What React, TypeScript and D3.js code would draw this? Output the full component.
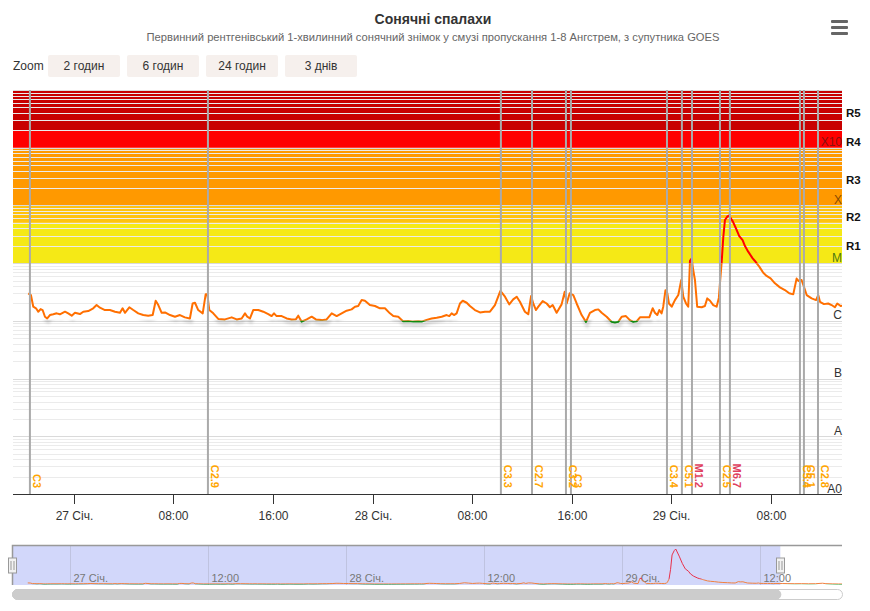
import React, { useEffect, useRef } from "react";
import * as d3 from "d3";

const title = "Сонячні спалахи";
const subtitle =
  "Первинний рентгенівський 1-хвилинний сонячний знімок у смузі пропускання 1-8 Ангстрем, з супутника GOES";
const zoomButtons = ["2 годин", "6 годин", "24 годин", "3 днів"];

// hours from 27 Jan 00:00 UTC
const obsHours = [
  -3.67, -3.46, -3.27, -3.05, -2.87, -2.68, -2.52, -2.33, -2.15, -1.93, -1.66, -1.39, -1.13, -0.72, -0.46,
  -0.18, 0.08, 0.48, 0.75, 1.15, 1.55, 1.82, 2.09, 2.49, 2.89, 3.3, 3.7, 3.91, 4.1, 4.45, 4.77, 5.17, 5.57,
  5.97, 6.33, 6.57, 6.78, 7.05, 7.32, 7.72, 8.12, 8.52, 8.92, 9.32, 9.54, 9.73, 9.99, 10.35, 10.59, 10.72,
  10.88, 11.2, 11.6, 12.14, 12.68, 13.08, 13.48, 13.75, 13.93, 14.15, 14.41, 14.82, 15.22, 15.62, 15.89,
  16.08, 16.29, 16.7, 17.1, 17.5, 17.85, 18.03, 18.3, 18.71, 19.11, 19.45, 19.91, 20.31, 20.72, 21.12,
  21.52, 21.92, 22.32, 22.59, 22.85, 23.13, 23.39, 23.79, 24.2, 24.6, 25.0, 25.4, 25.67, 26.07, 26.47,
  26.87, 27.28, 27.68, 27.95, 28.35, 28.75, 29.16, 29.56, 29.96, 30.17, 30.36, 30.55, 30.76, 31.03, 31.25,
  31.57, 31.83, 32.23, 32.64, 33.04, 33.44, 33.84, 34.28, 34.65, 34.99, 35.31, 35.59, 35.85, 36.25, 36.52,
  36.75, 36.92, 37.14, 37.33, 37.68, 38.0, 38.26, 38.48, 38.8, 39.2, 39.45, 39.61, 39.85, 40.14, 40.41,
  40.81, 41.16, 41.48, 41.88, 42.15, 42.42, 42.82, 43.22, 43.49, 43.75, 44.03, 44.37, 44.69, 44.96, 45.23,
  45.5, 45.9, 46.25, 46.52, 46.7, 46.89, 47.05, 47.24, 47.37, 47.55, 47.7, 47.83, 48.05, 48.31, 48.58,
  48.82, 48.98, 49.2, 49.38, 49.52, 49.65, 49.78, 49.92, 50.1, 50.46, 50.72, 50.91, 51.13, 51.39, 51.66,
  51.84, 51.93, 52.07, 52.2, 52.33, 52.52, 52.65, 52.95, 53.22, 53.48, 53.75, 53.94, 54.2, 54.56, 54.74,
  55.09, 55.41, 55.68, 56.0, 56.35, 56.75, 57.15, 57.5, 57.82, 58.09, 58.25, 58.49, 58.68, 58.9, 59.3,
  59.65, 59.83, 59.97, 60.29, 60.63, 60.9, 61.17, 61.36, 61.63, 61.9, 62.4, 63.0, 63.6, 64.2, 64.8, 65.4,
  65.7, 66.3, 66.8, 67.1,
];

// X-ray flux, 1e-6 W/m² (C-class units)
const obsFlux = [
  3.0, 2.8, 1.76, 1.65, 1.44, 1.6, 1.54, 1.18, 1.1, 1.26, 1.3, 1.35, 1.3, 1.44, 1.35,
  1.23, 1.38, 1.31, 1.44, 1.48, 1.65, 1.88, 1.69, 1.54, 1.54, 1.44, 1.38, 1.65, 1.38, 1.72, 1.54, 1.35, 1.26,
  1.23, 1.26, 2.23, 1.88, 1.38, 1.4, 1.26, 1.18, 1.26, 1.15, 1.1, 2.0, 2.06, 1.54, 1.35, 2.9, 2.9,
  1.54, 1.35, 1.08, 1.06, 1.15, 1.06, 1.1, 1.35, 1.18, 1.1, 1.54, 1.54, 1.44, 1.31, 1.21,
  1.35, 1.21, 1.21, 1.1, 1.06, 1.07, 1.23, 0.97, 1.06, 1.18, 1.06, 1.03, 1.06, 1.35, 1.21,
  1.35, 1.5, 1.58, 1.76, 1.81, 2.29, 2.23, 1.88, 1.81, 1.65, 1.65, 1.35, 1.21, 1.18, 0.98,
  0.99, 0.97, 0.98, 0.97, 1.04, 1.1, 1.13, 1.18, 1.26, 1.21, 1.35, 1.26, 1.35, 2.0, 2.23,
  2.06, 1.81, 1.54, 1.4, 1.44, 1.44, 1.88, 3.3, 2.62, 1.93, 2.36, 2.62, 2.14, 1.44, 1.3,
  2.7, 2.0, 1.54, 1.76, 2.2, 2.0, 1.72, 1.88, 1.38, 1.93, 3.2, 2.0, 3.0, 2.8, 2.0,
  1.26, 0.96, 1.38, 1.54, 1.58, 1.38, 1.18, 0.96, 0.94, 0.96, 1.18, 1.21, 1.03, 0.96, 0.98,
  1.15, 1.15, 1.15, 1.65, 1.38, 1.26, 1.54, 1.35, 1.76, 3.4, 3.0, 2.0, 1.76, 2.29, 2.8,
  5.1, 2.62, 2.0, 1.76, 11.0, 12.0, 7.6, 5.1, 1.76, 1.72, 1.81, 2.45, 2.23, 1.88, 1.76,
  2.5, 4.5, 10.6, 28.6, 55.8, 64.0, 67.0, 53.5, 39.8, 29.5, 25.1, 19.8, 15.8, 12.1, 10.9,
  8.7, 6.8, 6.0, 5.45, 4.47, 3.8, 3.42, 3.0, 2.88, 5.4, 4.9, 5.1, 3.9, 2.8, 2.45,
  2.29, 2.8, 2.14, 1.95, 2.0, 1.88, 1.72, 2.0, 1.81, 1.85, 1.7, 1.5, 1.6, 1.4, 1.5, 2.4,
  1.6, 1.2, 0.97, 0.95,
];

const flareHours = [-3.54, 10.77, 34.32, 36.82, 39.55, 39.95, 47.67, 48.87, 49.68, 51.93, 52.73, 58.36, 58.68, 59.81];
const flareLabels = ["C3", "C2.9", "C3.3", "C2.7", "C3.2", "C3", "C3.4", "C5.1", "M1.2", "C2.5", "M6.7", "C5.4", "C5.1", "C2.8"];

const gradeValues = [1e-9, 1e-8, 1e-7, 1e-6, 1e-5, 1e-4, 1e-3];
const gradeLabels = ["A0", "A", "B", "C", "M", "X", "X10"];
const gradeColors = ["#333", "#333", "#333", "#333", "#4d7a12", "#8a4a00", "#8a1010"];

const radioLimits = [1e-5, 5e-5, 1e-4, 1e-3, 2e-3, 1e-2];
const radioLabels = ["R1", "R2", "R3", "R4", "R5"];
const radioColors = ["#f5e916", "#ffc20e", "#ff9900", "#ff0000", "#c80000"];

const mainTicks = [0, 8, 16, 24, 32, 40, 48, 56];
const navTicks = [0, 12, 24, 36, 48, 60];
const monthShort = "Січ.";

const viewStart = -4.9;
const viewEnd = 61.74;
const navStart = -5.04;
const navEnd = 67.1;

const FONT = "'Liberation Sans', Arial, Helvetica, sans-serif";
const baseTime = Date.UTC(2025, 0, 27);
const toDate = (h: number) => new Date(baseTime + h * 3600e3);

const fmtTick = (d: Date) =>
  d.getUTCHours() === 0 && d.getUTCMinutes() === 0
    ? `${d.getUTCDate()} ${monthShort}`
    : d3.utcFormat("%H:%M")(d);

export default function App() {
  const ref = useRef<SVGSVGElement>(null);

  useEffect(() => {
    const svg = d3.select(ref.current);
    svg.selectAll("*").remove();

    const plot = { left: 13, right: 842, top: 90, bottom: 494 };
    const nav = { left: 12, right: 842, top: 546, bottom: 585 };

    const data = obsHours.map((h, i) => ({ t: toDate(h), v: obsFlux[i] * 1e-6 }));

    const x = d3.scaleUtc().domain([toDate(viewStart), toDate(viewEnd)]).range([plot.left, plot.right]);
    const y = d3.scaleLog().domain([1e-9, 1e-2]).range([plot.bottom, plot.top]);

    const defs = svg.append("defs");
    const clip = (id: string, x0: number, y0: number, x1: number, y1: number) =>
      defs.append("clipPath").attr("id", id).append("rect")
        .attr("x", x0).attr("y", y0).attr("width", x1 - x0).attr("height", y1 - y0);
    defs.append("filter").attr("id", "soft").append("feGaussianBlur").attr("stdDeviation", 1.6);

    // header
    svg.append("text").attr("x", 433).attr("y", 24).attr("text-anchor", "middle")
      .attr("font-size", 14).attr("font-weight", "bold").attr("fill", "#333").text(title);
    svg.append("text").attr("x", 433).attr("y", 41).attr("text-anchor", "middle")
      .attr("font-size", 11.2).attr("fill", "#666").text(subtitle);
    [20, 26, 32].forEach((yy) =>
      svg.append("rect").attr("x", 831).attr("y", yy).attr("width", 17).attr("height", 3)
        .attr("rx", 1).attr("fill", "#666"));

    svg.append("text").attr("x", 13).attr("y", 70).attr("font-size", 12).attr("fill", "#333").text("Zoom");
    zoomButtons.forEach((b, i) => {
      const bx = 48 + i * 79;
      svg.append("rect").attr("x", bx).attr("y", 55).attr("width", 72).attr("height", 22)
        .attr("rx", 2).attr("fill", "#f6f0ed");
      svg.append("text").attr("x", bx + 36).attr("y", 70).attr("text-anchor", "middle")
        .attr("font-size", 12).attr("fill", "#333").text(b);
    });

    // radio blackout bands
    const g = svg.append("g");
    radioColors.forEach((c, i) => {
      g.append("rect").attr("x", plot.left).attr("width", plot.right - plot.left)
        .attr("y", y(radioLimits[i + 1])).attr("height", y(radioLimits[i]) - y(radioLimits[i + 1]))
        .attr("fill", c);
    });

    // log grid
    for (let e = -9; e < -2; e++) {
      for (let m = 1; m < 10; m++) {
        const v = m * Math.pow(10, e);
        const yy = Math.round(y(v)) + 0.5;
        g.append("line").attr("x1", plot.left).attr("x2", plot.right).attr("y1", yy).attr("y2", yy)
          .attr("stroke", m === 1 ? "#dadada" : "#ebebeb").attr("stroke-width", 1);
      }
    }
    g.append("line").attr("x1", plot.left).attr("x2", plot.right)
      .attr("y1", plot.top + 0.5).attr("y2", plot.top + 0.5).attr("stroke", "#dcdcdc");

    // series: green below C, orange C-class, red M and above
    const line = d3.line<{ t: Date; v: number }>().x((d) => x(d.t)).y((d) => y(d.v));
    const path = line(data) || "";
    clip("shadowClip", plot.left, y(1e-6) - 4, plot.right, plot.bottom);
    clip("zoneRed", plot.left, plot.top, plot.right, y(1e-5));
    clip("zoneOrange", plot.left, y(1e-5), plot.right, y(1e-6));
    clip("zoneGreen", plot.left, y(1e-6), plot.right, plot.bottom);

    g.append("path").attr("d", path).attr("clip-path", "url(#shadowClip)")
      .attr("transform", "translate(1,3)").attr("fill", "none").attr("stroke", "#000")
      .attr("stroke-opacity", 0.14).attr("stroke-width", 4).attr("filter", "url(#soft)");
    [["zoneRed", "#ff0000"], ["zoneOrange", "#ff6f00"], ["zoneGreen", "#108a10"]].forEach(([id, c]) => {
      g.append("path").attr("d", path).attr("clip-path", `url(#${id})`)
        .attr("fill", "none").attr("stroke", c).attr("stroke-width", 2).attr("stroke-linejoin", "round");
    });

    // flare markers
    flareHours.forEach((h) => {
      const fx = x(toDate(h));
      g.append("line").attr("x1", fx).attr("x2", fx).attr("y1", plot.top).attr("y2", plot.bottom)
        .attr("stroke", "#aaa").attr("stroke-width", 2);
    });
    flareHours.forEach((h, i) => {
      const fx = x(toDate(h));
      const isM = flareLabels[i].startsWith("M");
      g.append("text").attr("transform", `translate(${fx + 3.5},488) rotate(90)`)
        .attr("text-anchor", "end").attr("font-size", 11).attr("font-weight", "bold")
        .attr("fill", isM ? "#e0405e" : "#ffa500").text(flareLabels[i]);
    });

    // class labels on the right
    gradeValues.forEach((v, i) => {
      g.append("text").attr("x", plot.right).attr("y", y(v) - 1.5).attr("text-anchor", "end")
        .attr("font-size", 12).attr("fill", gradeColors[i]).text(gradeLabels[i]);
    });
    radioLabels.forEach((r, i) => {
      const yc = (y(radioLimits[i]) + y(radioLimits[i + 1])) / 2;
      g.append("text").attr("x", 846).attr("y", yc + 7).attr("font-size", 11.5)
        .attr("font-weight", "bold").attr("fill", "#111").text(r);
    });

    // time axis
    const ax = svg.append("g").attr("transform", `translate(0,${plot.bottom})`);
    ax.append("line").attr("x1", plot.left).attr("x2", plot.right).attr("y1", 0.5).attr("y2", 0.5)
      .attr("stroke", "#333");
    mainTicks.forEach((h) => {
      const tx = Math.round(x(toDate(h))) + 0.5;
      ax.append("line").attr("x1", tx).attr("x2", tx).attr("y1", 0).attr("y2", 10).attr("stroke", "#333");
      ax.append("text").attr("x", tx).attr("y", 26).attr("text-anchor", "middle")
        .attr("font-size", 12).attr("fill", "#333").text(fmtTick(toDate(h)));
    });

    // navigator
    const xn = d3.scaleUtc().domain([toDate(navStart), toDate(navEnd)]).range([nav.left, nav.right]);
    const yn = d3.scaleLinear()
      .domain([d3.min(data, (d) => d.v) as number, d3.max(data, (d) => d.v) as number])
      .range([nav.bottom - 1, 549]);
    const selEnd = xn(toDate(viewEnd));
    const ng = svg.append("g");
    ng.append("rect").attr("x", nav.left).attr("y", nav.top).attr("width", selEnd - nav.left)
      .attr("height", nav.bottom - nav.top).attr("fill", "#d2d7fa");
    navTicks.forEach((h) => {
      const tx = Math.round(xn(toDate(h))) + 0.5;
      ng.append("line").attr("x1", tx).attr("x2", tx).attr("y1", nav.top).attr("y2", nav.bottom)
        .attr("stroke", "#bfc3e0");
      ng.append("text").attr("x", tx + 3).attr("y", 582).attr("font-size", 11).attr("fill", "#777")
        .text(fmtTick(toDate(h)));
    });
    const nline = d3.line<{ t: Date; v: number }>().x((d) => xn(d.t)).y((d) => yn(d.v));
    const npath = nline(data) || "";
    clip("navRed", nav.left, nav.top, nav.right, yn(1e-5));
    clip("navOrange", nav.left, yn(1e-5), nav.right, yn(1e-6));
    clip("navGreen", nav.left, yn(1e-6), nav.right, nav.bottom + 2);
    [["navRed", "#e8304a"], ["navOrange", "#f08040"], ["navGreen", "#108a10"]].forEach(([id, c]) => {
      ng.append("path").attr("d", npath).attr("clip-path", `url(#${id})`)
        .attr("fill", "none").attr("stroke", c).attr("stroke-width", 1);
    });
    ng.append("path")
      .attr("d", `M${nav.left + 0.5},${nav.bottom} V${nav.top - 0.5} H${nav.right}`)
      .attr("fill", "none").attr("stroke", "#999").attr("stroke-width", 1.5);
    [nav.left, selEnd].forEach((hx) => {
      const hxr = Math.round(hx) + 0.5;
      ng.append("rect").attr("x", hxr - 4).attr("y", 558).attr("width", 8).attr("height", 15)
        .attr("fill", "#f2f2f2").attr("stroke", "#999");
      [-1.5, 1.5].forEach((o) =>
        ng.append("line").attr("x1", hxr + o).attr("x2", hxr + o).attr("y1", 561).attr("y2", 570)
          .attr("stroke", "#999"));
    });

    // scrollbar
    ng.append("rect").attr("x", nav.left + 0.5).attr("y", 589.5).attr("width", nav.right - nav.left)
      .attr("height", 10).attr("rx", 5).attr("fill", "#fff").attr("stroke", "#ccc");
    ng.append("rect").attr("x", nav.left + 0.5).attr("y", 589.5).attr("width", selEnd - nav.left)
      .attr("height", 10).attr("rx", 5).attr("fill", "#ccc").attr("stroke", "#ccc");
  }, []);

  return (
    <svg
      ref={ref}
      width={870}
      height={611}
      style={{ position: "absolute", left: 0, top: 0, fontFamily: FONT, background: "#fff" }}
    />
  );
}
